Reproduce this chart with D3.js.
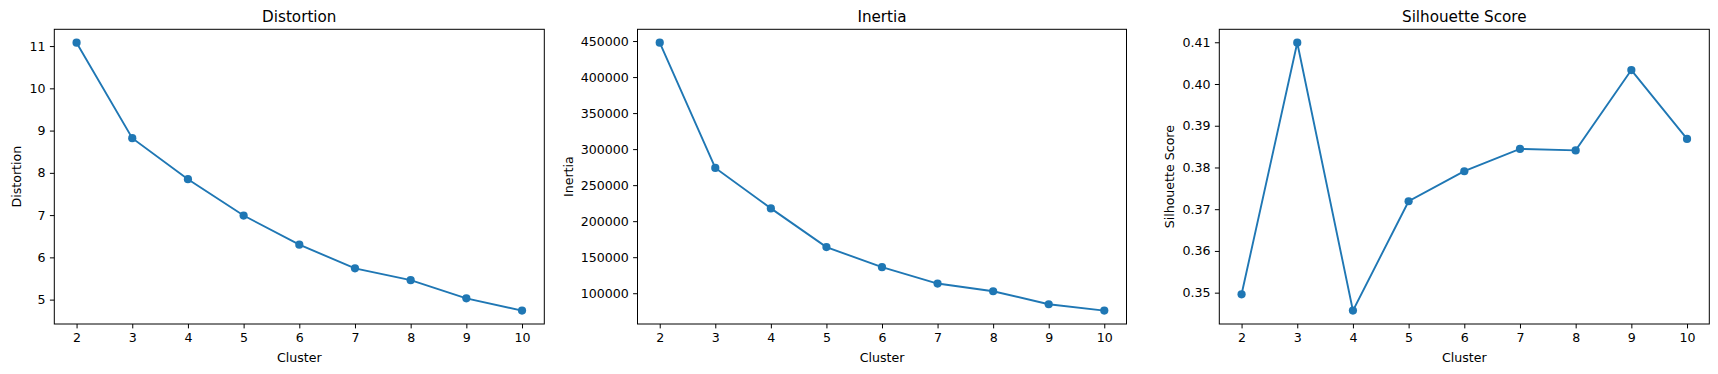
<!DOCTYPE html>
<html lang="en">
<head>
    <meta charset="UTF-8">
    <script src="https://d3js.org/d3.v7.min.js"></script>
    <style>
        body { margin: 0; background: white; }
        svg { display: block; font-family: "DejaVu Sans", sans-serif; }
        .title { font-size: 15.2px; text-anchor: middle; }
        .label { font-size: 12.6px; text-anchor: middle; }
        .axis text { font-size: 12.6px; font-family: "DejaVu Sans", sans-serif; fill: #000; }
        .axis line { stroke: #000; stroke-width: 1px; }
        .frame { fill: none; stroke: #000; stroke-width: 1px; }
        .line { fill: none; stroke: #1f77b4; stroke-width: 1.9px; }
        .dot { fill: #1f77b4; }
    </style>
</head>
<body>
<svg id="chart" width="1718" height="374"></svg>
<script>
    // cluster counts shared by all three panels
    const clusters = [2, 3, 4, 5, 6, 7, 8, 9, 10];
    const distortion = [11.08, 8.82, 7.85, 6.99, 6.30, 5.74, 5.46, 5.03, 4.74];
    const inertia = [447700, 273850, 217750, 164000, 136150, 113440, 102750, 84700, 75880];
    const silhouette = [0.3496, 0.4099, 0.3457, 0.3719, 0.3791, 0.38445, 0.38409, 0.40335, 0.38685];

    const distortionTicks = [5, 6, 7, 8, 9, 10, 11];
    const inertiaTicks = [100000, 150000, 200000, 250000, 300000, 350000, 400000, 450000];
    const silhouetteTicks = [0.35, 0.36, 0.37, 0.38, 0.39, 0.40, 0.41];

    const svg = d3.select("#chart");
    const plotTop = 29.3, plotBottom = 324;
    const tickLen = 4.4, tickPad = 4.4;

    // matplotlib style 5% margins
    function padded(ext) {
        const m = (ext[1] - ext[0]) * 0.05;
        return [ext[0] - m, ext[1] + m];
    }

    function panel(left, right, title, ylabel, values, ticks, fmt) {
        const g = svg.append("g");
        const x = d3.scaleLinear().domain(padded(d3.extent(clusters))).range([left, right]);
        const y = d3.scaleLinear().domain(padded(d3.extent(values))).range([plotBottom, plotTop]);

        const xAxis = g.append("g")
            .attr("class", "axis")
            .attr("transform", "translate(0," + plotBottom + ")")
            .call(d3.axisBottom(x).tickValues(clusters).tickFormat(d3.format("d"))
                .tickSizeOuter(0).tickSize(tickLen).tickPadding(tickPad));
        xAxis.select(".domain").remove();

        const yAxis = g.append("g")
            .attr("class", "axis")
            .attr("transform", "translate(" + left + ",0)")
            .call(d3.axisLeft(y).tickValues(ticks).tickFormat(fmt)
                .tickSizeOuter(0).tickSize(tickLen).tickPadding(tickPad));
        yAxis.select(".domain").remove();

        g.append("rect")
            .attr("class", "frame")
            .attr("x", left).attr("y", plotTop)
            .attr("width", right - left).attr("height", plotBottom - plotTop);

        const line = d3.line().x((d, i) => x(clusters[i])).y(d => y(d));
        g.append("path").datum(values).attr("class", "line").attr("d", line);
        g.selectAll(".dot").data(values).enter().append("circle")
            .attr("class", "dot")
            .attr("cx", (d, i) => x(clusters[i]))
            .attr("cy", d => y(d))
            .attr("r", 4.1);

        g.append("text")
            .attr("class", "title")
            .attr("x", (left + right) / 2)
            .attr("y", 22)
            .text(title);

        g.append("text")
            .attr("class", "label")
            .attr("x", (left + right) / 2)
            .attr("y", 362)
            .text("Cluster");

        if (ylabel) {
            let maxW = 0;
            yAxis.selectAll("text").each(function () {
                maxW = Math.max(maxW, this.getBBox().width);
            });
            const lx = left - tickLen - tickPad - maxW - 5 - 3;
            g.append("text")
                .attr("class", "label")
                .attr("transform", "translate(" + lx + "," + (plotTop + plotBottom) / 2 + ") rotate(-90)")
                .text(ylabel);
        }
    }

    panel(54.3, 544.3, "Distortion", "Distortion", distortion, distortionTicks, d3.format("d"));
    panel(637.5, 1126.5, "Inertia", "Inertia", inertia, inertiaTicks, d3.format("d"));
    panel(1219.3, 1709.3, "Silhouette Score", "Silhouette Score", silhouette, silhouetteTicks, d3.format(".2f"));
</script>
</body>
</html>
